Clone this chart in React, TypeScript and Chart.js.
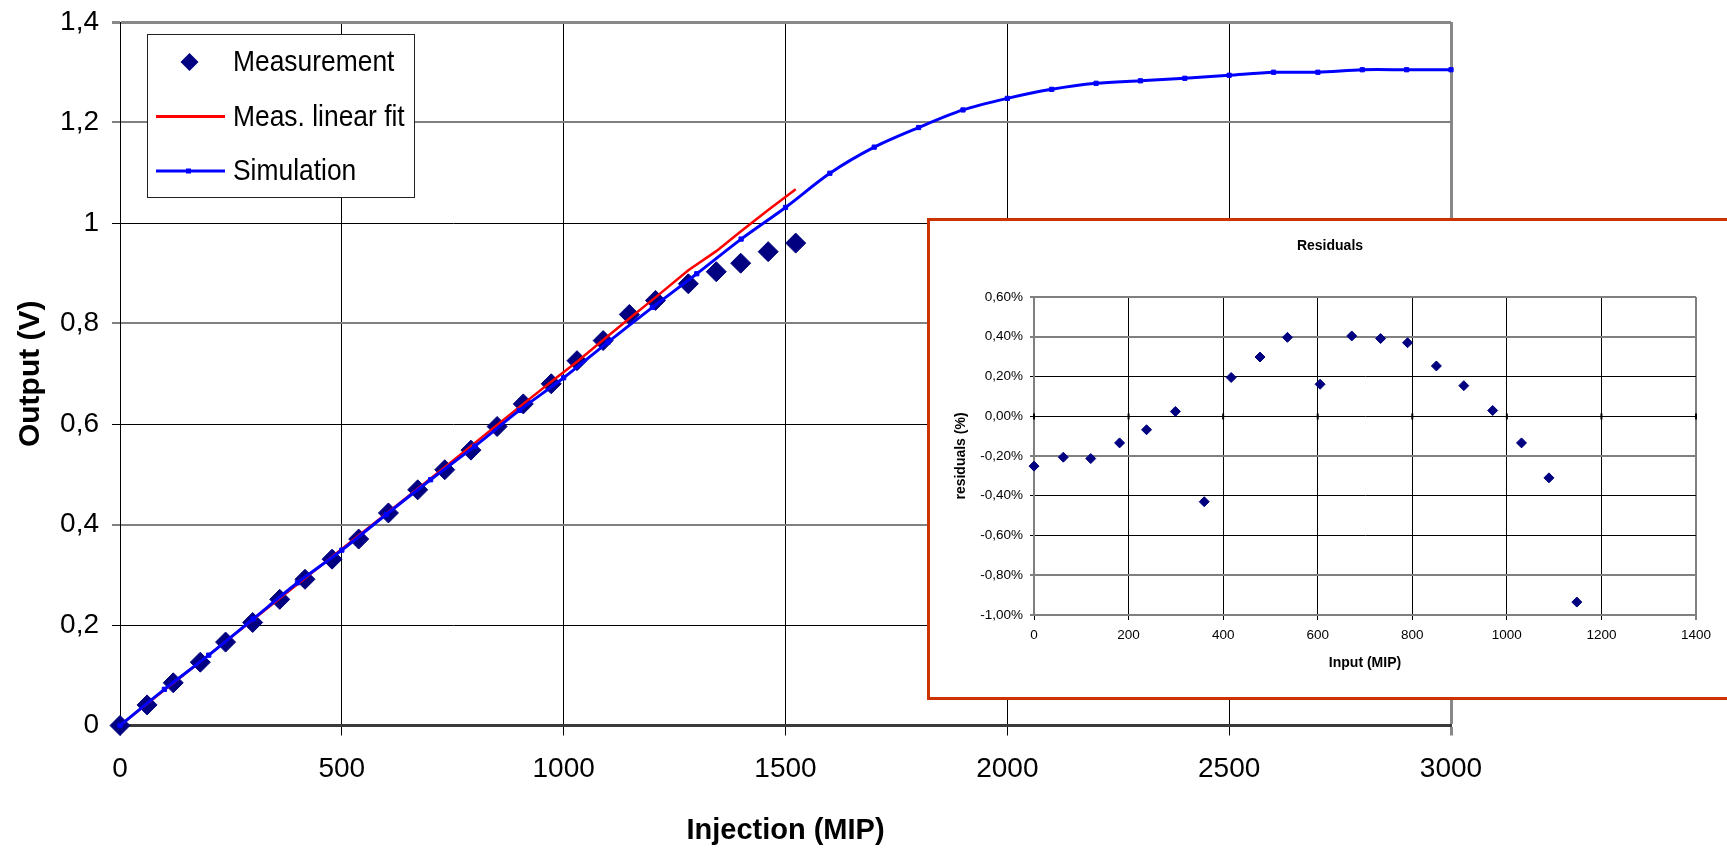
import React, { useEffect, useRef } from "react";
import { Chart, registerables } from "chart.js";

Chart.register(...registerables);

// ---------- Data ----------
const measInjection = [0, 61, 120, 181, 238, 299, 360, 417, 478, 538, 605, 671, 732, 791, 850, 909, 972, 1030, 1089, 1148, 1207, 1281, 1344, 1399, 1461, 1523];
const measOutput = [0, 0.041, 0.085, 0.126, 0.166, 0.205, 0.251, 0.291, 0.331, 0.371, 0.423, 0.469, 0.509, 0.548, 0.595, 0.64, 0.68, 0.726, 0.766, 0.818, 0.846, 0.879, 0.903, 0.92, 0.943, 0.96];
const fitOutput = [0, 0.043, 0.0845, 0.127, 0.167, 0.21, 0.253, 0.293, 0.336, 0.378, 0.425, 0.471, 0.514, 0.556, 0.598, 0.64, 0.684, 0.724, 0.767, 0.81, 0.852, 0.906, 0.944, 0.983, 1.026, 1.067];
const simInjection = [0, 100, 200, 300, 400, 500, 600, 700, 800, 900, 1000, 1100, 1200, 1300, 1400, 1500, 1600, 1700, 1800, 1900, 2000, 2100, 2200, 2300, 2400, 2500, 2600, 2700, 2800, 2900, 3000];
const simOutput = [0, 0.072, 0.14, 0.212, 0.284, 0.349, 0.42, 0.489, 0.556, 0.627, 0.692, 0.763, 0.832, 0.899, 0.968, 1.031, 1.099, 1.151, 1.19, 1.225, 1.248, 1.266, 1.278, 1.283, 1.288, 1.294, 1.3, 1.3, 1.305, 1.305, 1.305];

const residualInput = [0, 62, 120, 181, 238, 299, 360, 417, 478, 536, 605, 672, 733, 790, 851, 909, 970, 1031, 1089, 1148];
const residualPercent = [-0.251, -0.206, -0.213, -0.134, -0.068, 0.024, -0.43, 0.195, 0.298, 0.397, 0.161, 0.404, 0.391, 0.37, 0.253, 0.154, 0.029, -0.134, -0.31, -0.935];

const mainXTicks = [0, 500, 1000, 1500, 2000, 2500, 3000];
const mainYTicks = [0, 0.2, 0.4, 0.6, 0.8, 1, 1.2, 1.4];
const mainYTickLabels = ["0", "0,2", "0,4", "0,6", "0,8", "1", "1,2", "1,4"];
const insetXTicks = [0, 200, 400, 600, 800, 1000, 1200, 1400];
const insetYTicks = [-1, -0.8, -0.6, -0.4, -0.2, 0, 0.2, 0.4, 0.6];
const insetYTickLabels = ["-1,00%", "-0,80%", "-0,60%", "-0,40%", "-0,20%", "0,00%", "0,20%", "0,40%", "0,60%"];

const FONT = "'Liberation Sans', Arial, sans-serif";

// ---------- Plugins ----------
const boxLegend = {
  id: "boxLegend",
  afterDraw(chart: any) {
    const ctx = chart.ctx as CanvasRenderingContext2D;
    ctx.save();
    ctx.fillStyle = "#fff";
    ctx.fillRect(147, 34, 268, 163);
    ctx.strokeStyle = "#222";
    ctx.lineWidth = 1;
    ctx.strokeRect(147.5, 34.5, 267, 163);
    const ds = chart.data.datasets;
    const rows = [
      { ds: ds[0], y: 62, base: 71 },
      { ds: ds[1], y: 116.5, base: 126 },
      { ds: ds[2], y: 171, base: 180 },
    ];
    rows.forEach((r, i) => {
      if (i === 0) {
        const cx = 189.5, cy = r.y, s = 9;
        ctx.beginPath();
        ctx.moveTo(cx, cy - s);
        ctx.lineTo(cx + s, cy);
        ctx.lineTo(cx, cy + s);
        ctx.lineTo(cx - s, cy);
        ctx.closePath();
        ctx.fillStyle = r.ds.backgroundColor;
        ctx.fill();
      } else {
        ctx.strokeStyle = r.ds.borderColor;
        ctx.lineWidth = 3;
        ctx.beginPath();
        ctx.moveTo(156, r.y);
        ctx.lineTo(225, r.y);
        ctx.stroke();
        if (i === 2) {
          ctx.fillStyle = r.ds.backgroundColor;
          ctx.fillRect(186, r.y - 2.5, 5, 5);
        }
      }
      ctx.save();
      ctx.translate(233, r.base);
      ctx.scale(0.88, 1);
      ctx.fillStyle = "#000";
      ctx.font = `30px ${FONT}`;
      ctx.textBaseline = "alphabetic";
      ctx.textAlign = "left";
      ctx.fillText(r.ds.label, 0, 0);
      ctx.restore();
    });
    ctx.restore();
  },
};

const zeroTicks = {
  id: "zeroTicks",
  afterDraw(chart: any) {
    const ctx = chart.ctx as CanvasRenderingContext2D;
    const xs = chart.scales.x;
    const ys = chart.scales.y;
    const y0 = Math.round(ys.getPixelForValue(0)) + 0.5;
    ctx.save();
    ctx.strokeStyle = "#000";
    ctx.lineWidth = 2;
    insetXTicks.forEach((v) => {
      const x = xs.getPixelForValue(v);
      ctx.beginPath();
      ctx.moveTo(x, y0 - 3);
      ctx.lineTo(x, y0 + 3);
      ctx.stroke();
    });
    ctx.restore();
  },
};

// ---------- Components ----------
function MainChart() {
  const ref = useRef<HTMLCanvasElement>(null);
  useEffect(() => {
    const chart = new Chart(ref.current!, {
      type: "scatter",
      data: {
        datasets: [
          {
            label: "Measurement",
            data: measInjection.map((x, i) => ({ x, y: measOutput[i] })),
            showLine: false,
            pointStyle: "rectRot",
            pointRadius: 10,
            backgroundColor: "#000080",
            borderColor: "#000080",
            borderWidth: 1,
            order: 3,
            clip: false,
          },
          {
            label: "Meas. linear fit",
            data: measInjection.map((x, i) => ({ x, y: fitOutput[i] })),
            showLine: true,
            pointRadius: 0,
            borderColor: "#FF0000",
            backgroundColor: "#FF0000",
            borderWidth: 2.5,
            tension: 0,
            order: 2,
            clip: false,
          },
          {
            label: "Simulation",
            data: simInjection.map((x, i) => ({ x, y: simOutput[i] })),
            showLine: true,
            pointStyle: "rect",
            pointRadius: 3,
            backgroundColor: "#0000FF",
            borderColor: "#0000FF",
            borderWidth: 3,
            pointBorderWidth: 1,
            tension: 0.3,
            order: 1,
            clip: false,
          },
        ],
      },
      options: {
        animation: false,
        responsive: false,
        maintainAspectRatio: false,
        layout: { padding: { left: 0, top: 22, right: 276, bottom: 0 } },
        plugins: { legend: { display: false }, tooltip: { enabled: false }, title: { display: false } },
        scales: {
          x: {
            type: "linear",
            min: 0,
            max: 3000,
            afterBuildTicks: (s: any) => {
              s.ticks = mainXTicks.map((v) => ({ value: v }));
            },
            afterFit: (s: any) => {
              s.height = 123.5;
              s.paddingLeft = 0;
              s.paddingRight = 0;
            },
            grid: {
              color: (c: any) => (c.index === 6 ? "#888" : "#000"),
              lineWidth: (c: any) => (c.index === 6 ? 3 : 1),
              tickLength: 10,
              drawTicks: true,
            },
            border: { display: true, color: "#3a3a3a", width: 3 },
            ticks: {
              color: "#000",
              font: { family: FONT, size: 28 },
              padding: 17,
              maxRotation: 0,
              callback: (v: any) => String(v),
            },
            title: {
              display: true,
              text: "Injection (MIP)",
              color: "#000",
              font: { family: FONT, size: 29, weight: "bold", lineHeight: 1 },
              padding: { top: 0, bottom: 4 },
            },
          },
          y: {
            type: "linear",
            min: 0,
            max: 1.4,
            afterBuildTicks: (s: any) => {
              s.ticks = mainYTicks.map((v) => ({ value: v }));
            },
            afterFit: (s: any) => {
              s.width = 120;
              s.paddingTop = 0;
              s.paddingBottom = 0;
            },
            grid: {
              color: (c: any) => (c.index === 7 ? "#888" : c.index % 2 === 0 ? "#808080" : "#000"),
              lineWidth: (c: any) => (c.index === 7 ? 3 : c.index % 2 === 0 ? 2 : 1),
              tickLength: 8,
            },
            border: { display: true, color: "#000", width: 1 },
            ticks: {
              color: "#000",
              font: { family: FONT, size: 28 },
              padding: 13,
              callback: (_v: any, i: number) => mainYTickLabels[i],
            },
            title: {
              display: true,
              text: "Output (V)",
              color: "#000",
              font: { family: FONT, size: 30, weight: "bold", lineHeight: 1.2 },
              padding: { top: 13, bottom: 0 },
            },
          },
        },
      },
      plugins: [boxLegend],
    } as any);
    return () => chart.destroy();
  }, []);
  return <canvas ref={ref} width={1727} height={849} style={{ position: "absolute", left: 0, top: 0, width: 1727, height: 849 }} />;
}

function InsetChart() {
  const ref = useRef<HTMLCanvasElement>(null);
  useEffect(() => {
    const chart = new Chart(ref.current!, {
      type: "scatter",
      data: {
        datasets: [
          {
            label: "Residuals",
            data: residualInput.map((x, i) => ({ x, y: residualPercent[i] })),
            showLine: false,
            pointStyle: "rectRot",
            pointRadius: 5,
            backgroundColor: "#000080",
            borderColor: "#000080",
            borderWidth: 1,
            clip: false,
          },
        ],
      },
      options: {
        animation: false,
        responsive: false,
        maintainAspectRatio: false,
        layout: { padding: { left: 34, top: 0, right: 34, bottom: 0 } },
        plugins: {
          legend: { display: false },
          tooltip: { enabled: false },
          title: {
            display: true,
            text: "Residuals",
            color: "#000",
            font: { family: FONT, size: 14, weight: "bold", lineHeight: 1.2 },
            padding: { top: 16.6, bottom: 42.6 },
          },
        },
        scales: {
          x: {
            type: "linear",
            min: 0,
            max: 1400,
            afterBuildTicks: (s: any) => {
              s.ticks = insetXTicks.map((v) => ({ value: v }));
            },
            afterFit: (s: any) => {
              s.height = 82;
              s.paddingLeft = 0;
              s.paddingRight = 0;
            },
            grid: {
              color: (c: any) => (c.index === 7 ? "#808080" : "#000"),
              lineWidth: (c: any) => (c.index === 7 ? 2 : 1),
              tickLength: 5,
            },
            border: { display: true, color: "#808080", width: 2 },
            ticks: {
              color: "#000",
              font: { family: FONT, size: 13.5 },
              padding: 7.6,
              maxRotation: 0,
              callback: (v: any) => String(v),
            },
            title: {
              display: true,
              text: "Input (MIP)",
              color: "#000",
              font: { family: FONT, size: 14, weight: "bold", lineHeight: 1.2 },
              padding: { top: 0, bottom: 25.6 },
            },
          },
          y: {
            type: "linear",
            min: -1,
            max: 0.6,
            afterBuildTicks: (s: any) => {
              s.ticks = insetYTicks.map((v) => ({ value: v }));
            },
            afterFit: (s: any) => {
              s.width = 70;
              s.paddingTop = 0;
              s.paddingBottom = 0;
            },
            grid: {
              color: (c: any) => ([0, 1, 4, 7, 8].includes(c.index) ? "#808080" : "#000"),
              lineWidth: (c: any) => ([0, 1, 4, 7, 8].includes(c.index) ? 2 : 1),
              tickLength: 4,
            },
            border: { display: true, color: "#808080", width: 2 },
            ticks: {
              color: "#000",
              font: { family: FONT, size: 13.5 },
              padding: 7,
              callback: (_v: any, i: number) => insetYTickLabels[i],
            },
            title: {
              display: true,
              text: "residuals (%)",
              color: "#000",
              font: { family: FONT, size: 14, weight: "bold", lineHeight: 1.2 },
              padding: { top: -11.4, bottom: 0 },
            },
          },
        },
      },
      plugins: [zeroTicks],
    } as any);
    return () => chart.destroy();
  }, []);
  return <canvas ref={ref} width={800} height={476} style={{ display: "block", width: 800, height: 476 }} />;
}

export default function App() {
  return (
    <div style={{ position: "fixed", left: 0, top: 0, width: 1727, height: 849, overflow: "hidden", background: "#fff" }}>
      <MainChart />
      <div
        style={{
          position: "absolute",
          left: 927,
          top: 218,
          width: 806,
          height: 482,
          border: "3px solid #CC3300",
          boxSizing: "border-box",
          background: "#fff",
        }}
      >
        <InsetChart />
      </div>
    </div>
  );
}
